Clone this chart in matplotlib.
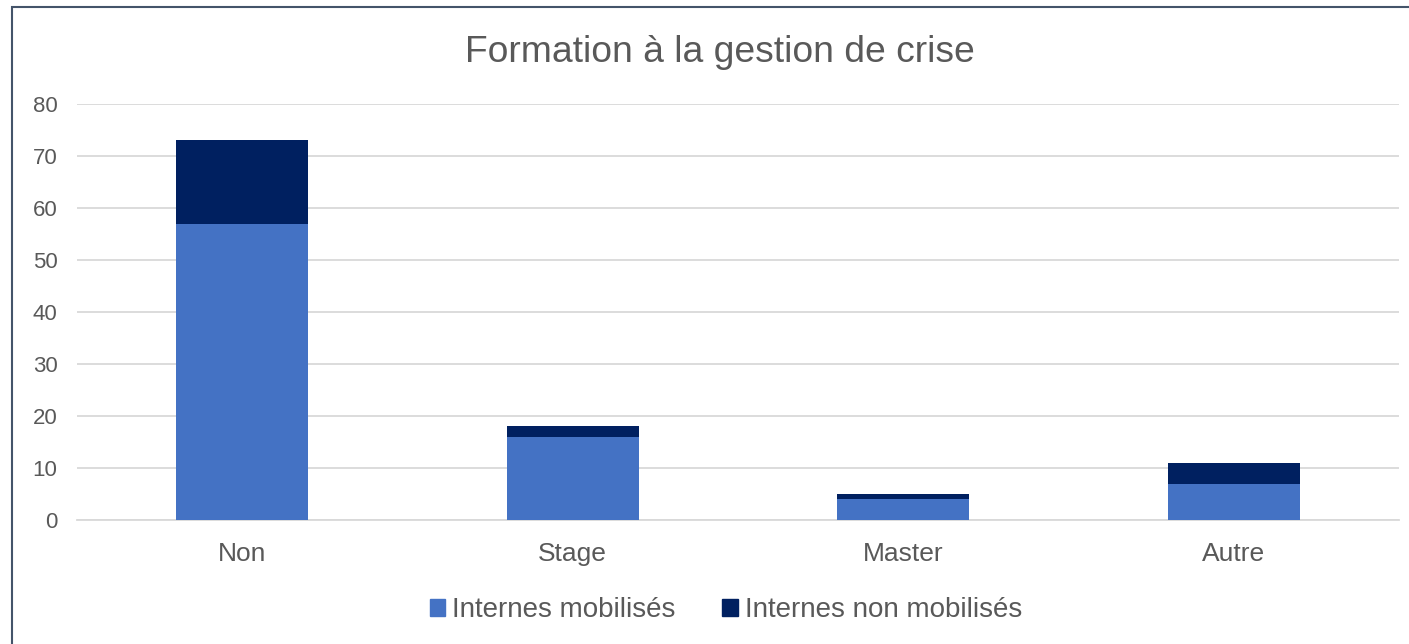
import numpy as np
import matplotlib.pyplot as plt
from matplotlib.patches import Rectangle, Patch

# donnees
categories = ['Non', 'Stage', 'Master', 'Autre']
mobilises = [57, 16, 4, 7]
non_mobilises = [16, 2, 1, 4]
yticks = [0, 10, 20, 30, 40, 50, 60, 70, 80]

plt.rcParams['font.family'] = ['Liberation Sans', 'DejaVu Sans']
gris = '#595959'
c1 = '#4472C4'
c2 = '#002060'

W, H = 1409, 644
fig = plt.figure(figsize=(W / 100, H / 100), dpi=100)

# cadre du graphique
fig.patches.append(Rectangle((12 / W, -0.1), 1.2, (644 - 7) / H + 0.1,
                             transform=fig.transFigure, fill=False,
                             edgecolor='#44546A', linewidth=1.5))

ax = fig.add_axes([77 / W, (H - 520) / H, (1399 - 77) / W, (520 - 104) / H])

x = np.arange(len(categories))
ax.bar(x, mobilises, width=0.4, color=c1, zorder=3)
ax.bar(x, non_mobilises, width=0.4, bottom=mobilises, color=c2, zorder=3)

ax.set_xlim(-0.5, len(categories) - 0.5)
ax.set_ylim(0, 80)
ax.set_yticks(yticks)
ax.set_xticks(x)
ax.set_xticklabels(categories)
ax.grid(axis='y', color='#D9D9D9', linewidth=1.3, zorder=0)
for s in ['top', 'right', 'left']:
    ax.spines[s].set_visible(False)
ax.spines['bottom'].set_color('#D9D9D9')
ax.spines['bottom'].set_linewidth(1.3)
ax.tick_params(axis='both', length=0, colors=gris)
ax.tick_params(axis='y', labelsize=16, pad=14)
ax.tick_params(axis='x', labelsize=19, pad=16)

fig.text(720 / W, (H - 52) / H, 'Formation à la gestion de crise',
         ha='center', va='center', fontsize=26.8, color=gris)

handles = [Patch(color=c1), Patch(color=c2)]
leg = fig.legend(handles, ['Internes mobilisés', 'Internes non mobilisés'],
                 loc='center', bbox_to_anchor=(726 / W, (H - 610) / H), ncol=2,
                 frameon=False, fontsize=20, handlelength=0.55, handleheight=0.55,
                 handletextpad=0.25, columnspacing=1.68)
for t in leg.get_texts():
    t.set_color(gris)

fig.savefig('out.png', dpi=100)
